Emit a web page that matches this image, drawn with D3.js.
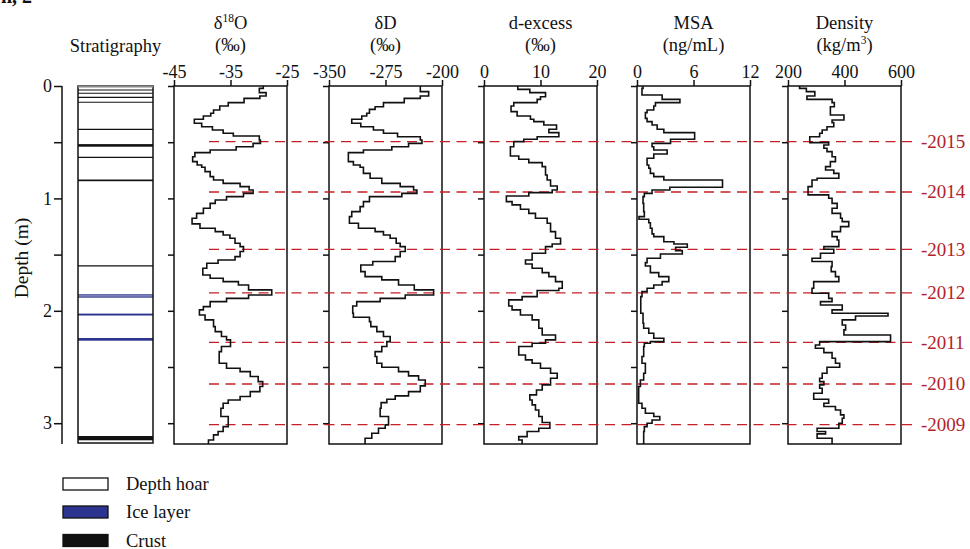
<!DOCTYPE html>
<html>
<head>
<meta charset="utf-8">
<script src="https://cdn.jsdelivr.net/npm/d3@7"></script>
<style>
  body { margin: 0; background: #fff; }
  svg { display: block; font-family: "Liberation Serif", "Times New Roman", serif; }
</style>
</head>
<body>
<svg id="chart" width="970" height="549"></svg>
<script>
// ---------- Profile data (sample top depth in m, value) ----------
const d18oDepth = [0, 0.021, 0.059, 0.089, 0.110, 0.148, 0.178, 0.213, 0.243, 0.267, 0.296, 0.332, 0.362, 0.391, 0.421, 0.445, 0.480, 0.510, 0.540, 0.569, 0.593, 0.629, 0.673, 0.703, 0.723, 0.762, 0.806, 0.836, 0.866, 0.895, 0.925, 0.955, 0.984, 1.014, 1.044, 1.088, 1.133, 1.177, 1.227, 1.266, 1.296, 1.325, 1.355, 1.399, 1.429, 1.473, 1.518, 1.548, 1.577, 1.622, 1.681, 1.711, 1.740, 1.770, 1.814, 1.859, 1.889, 1.918, 1.963, 1.992, 2.037, 2.081, 2.141, 2.185, 2.229, 2.259, 2.318, 2.363, 2.467, 2.511, 2.541, 2.585, 2.630, 2.674, 2.719, 2.763, 2.793, 2.822, 2.867, 2.941, 3.030, 3.074, 3.104, 3.149];
const d18oValue = [-29.2, -29.9, -28.7, -29.8, -32.6, -35.4, -36.9, -38.0, -38.5, -39.8, -41.4, -40.1, -38.2, -36.3, -34.5, -29.9, -29.7, -31.0, -34.0, -38.6, -41.3, -41.7, -40.9, -40.1, -39.5, -38.6, -38.0, -36.3, -33.3, -31.7, -31.0, -32.7, -35.7, -37.7, -38.6, -39.8, -41.0, -41.8, -40.4, -37.7, -36.3, -35.1, -34.2, -33.3, -32.7, -33.3, -34.2, -37.2, -39.2, -39.9, -38.6, -36.3, -33.6, -31.8, -27.7, -31.8, -35.7, -38.6, -39.8, -40.5, -39.5, -38.0, -37.7, -36.6, -35.7, -35.0, -36.6, -37.0, -35.7, -33.3, -31.5, -30.1, -29.3, -29.8, -31.5, -33.3, -35.4, -36.3, -36.7, -35.4, -36.3, -37.2, -38.0, -38.9];

const dDDepth = [0, 0.050, 0.089, 0.110, 0.148, 0.184, 0.208, 0.243, 0.267, 0.296, 0.332, 0.362, 0.391, 0.421, 0.451, 0.480, 0.510, 0.540, 0.569, 0.593, 0.673, 0.703, 0.723, 0.777, 0.821, 0.866, 0.895, 0.925, 0.955, 0.984, 1.029, 1.073, 1.118, 1.162, 1.221, 1.266, 1.296, 1.325, 1.355, 1.399, 1.429, 1.473, 1.518, 1.562, 1.592, 1.651, 1.696, 1.725, 1.770, 1.814, 1.859, 1.889, 1.918, 1.957, 2.022, 2.058, 2.096, 2.141, 2.185, 2.229, 2.274, 2.318, 2.363, 2.407, 2.467, 2.502, 2.541, 2.579, 2.615, 2.668, 2.719, 2.757, 2.787, 2.817, 2.867, 2.941, 3.015, 3.045, 3.089, 3.134];
const dDValue = [-228.8, -217.7, -228.8, -250.1, -277.7, -288.8, -296.3, -299.9, -306.5, -319.8, -307.8, -291.0, -277.7, -259.0, -228.8, -226.6, -244.4, -266.6, -304.3, -324.3, -317.6, -308.7, -304.3, -295.4, -279.9, -255.5, -237.7, -233.3, -253.3, -296.3, -304.3, -308.7, -319.8, -322.9, -310.9, -288.8, -277.7, -268.8, -260.8, -255.5, -248.8, -255.5, -262.1, -291.9, -307.8, -302.1, -279.9, -257.7, -236.8, -211.1, -248.8, -282.1, -313.2, -318.5, -317.6, -296.3, -294.5, -286.5, -277.7, -268.8, -273.2, -279.9, -288.8, -286.5, -279.9, -257.7, -244.4, -231.1, -222.2, -228.8, -244.4, -262.1, -273.2, -280.8, -282.1, -271.0, -275.4, -284.3, -293.2, -302.1];

const dexDepth = [0, 0.030, 0.059, 0.095, 0.119, 0.148, 0.178, 0.228, 0.267, 0.296, 0.317, 0.347, 0.385, 0.415, 0.451, 0.474, 0.495, 0.540, 0.623, 0.652, 0.682, 0.717, 0.792, 0.836, 0.889, 0.925, 0.949, 0.978, 1.029, 1.058, 1.097, 1.133, 1.177, 1.221, 1.296, 1.355, 1.405, 1.429, 1.488, 1.548, 1.583, 1.622, 1.660, 1.696, 1.740, 1.800, 1.820, 1.874, 1.903, 1.957, 1.992, 2.037, 2.081, 2.155, 2.215, 2.259, 2.289, 2.318, 2.393, 2.437, 2.467, 2.511, 2.556, 2.600, 2.659, 2.704, 2.748, 2.793, 2.837, 2.882, 2.941, 2.994, 3.045, 3.074, 3.119, 3.149];
const dexValue = [5.98, 8.11, 10.89, 10.0, 9.41, 5.27, 4.79, 5.86, 8.22, 8.82, 10.59, 12.84, 11.48, 13.25, 9.41, 7.04, 5.27, 4.67, 6.15, 7.93, 10.3, 10.89, 11.18, 11.78, 12.96, 12.07, 7.93, 3.96, 4.97, 6.45, 7.93, 9.11, 11.18, 11.78, 12.66, 13.55, 12.07, 10.89, 8.52, 7.34, 8.52, 10.3, 11.48, 12.66, 13.85, 13.25, 9.41, 6.75, 4.38, 4.97, 6.45, 8.52, 9.70, 10.3, 12.66, 10.89, 8.52, 6.15, 7.34, 8.52, 10.0, 11.78, 12.96, 11.78, 10.3, 9.29, 8.11, 8.52, 9.11, 9.70, 10.3, 11.66, 9.70, 7.63, 6.15, 6.75];

const msaDepth = [0, 0.021, 0.080, 0.119, 0.148, 0.178, 0.213, 0.237, 0.288, 0.317, 0.347, 0.385, 0.415, 0.474, 0.510, 0.540, 0.569, 0.605, 0.643, 0.703, 0.732, 0.777, 0.806, 0.836, 0.901, 0.925, 0.955, 0.984, 1.044, 1.118, 1.162, 1.186, 1.216, 1.266, 1.316, 1.340, 1.385, 1.405, 1.435, 1.465, 1.494, 1.533, 1.571, 1.601, 1.660, 1.696, 1.740, 1.770, 1.800, 1.829, 1.874, 2.022, 2.111, 2.155, 2.200, 2.244, 2.274, 2.289, 2.318, 2.407, 2.467, 2.556, 2.615, 2.674, 2.822, 2.867, 2.911, 2.941, 2.971, 3.000, 3.030, 3.074];
const msaValue = [0.64, 0.53, 2.67, 4.56, 1.96, 1.78, 1.07, 0.89, 1.07, 1.60, 2.14, 2.85, 6.12, 3.56, 1.60, 1.78, 3.20, 1.78, 1.07, 1.25, 1.42, 1.78, 2.85, 9.08, 3.49, 1.60, 0.78, 0.64, 0.71, 0.78, 0.21, 1.25, 1.42, 1.60, 1.78, 2.85, 3.92, 5.34, 4.10, 4.81, 2.49, 1.07, 0.89, 1.42, 2.31, 3.38, 2.67, 1.78, 1.07, 0.53, 0.40, 0.64, 0.71, 1.25, 1.78, 2.85, 1.42, 0.78, 0.71, 0.53, 0.89, 0.71, 0.36, 0.18, 0.53, 0.89, 1.78, 2.42, 1.60, 1.07, 0.78, 0.71];

const densDepth = [0, 0.021, 0.050, 0.089, 0.119, 0.148, 0.184, 0.258, 0.302, 0.326, 0.362, 0.391, 0.421, 0.451, 0.504, 0.525, 0.554, 0.584, 0.629, 0.673, 0.717, 0.747, 0.777, 0.821, 0.836, 0.895, 0.969, 0.999, 1.044, 1.088, 1.133, 1.177, 1.207, 1.251, 1.296, 1.340, 1.370, 1.429, 1.453, 1.488, 1.533, 1.562, 1.607, 1.651, 1.696, 1.740, 1.800, 1.844, 1.889, 1.918, 1.948, 1.992, 2.022, 2.046, 2.081, 2.126, 2.170, 2.215, 2.274, 2.304, 2.333, 2.372, 2.422, 2.467, 2.502, 2.556, 2.600, 2.630, 2.659, 2.689, 2.734, 2.787, 2.822, 2.852, 2.882, 2.926, 2.956, 3.000, 3.045, 3.074, 3.095, 3.134];
const densValue = [241, 265, 295, 267, 356, 364, 350, 398, 356, 362, 338, 321, 312, 277, 344, 327, 338, 356, 368, 350, 333, 362, 380, 303, 285, 271, 344, 356, 374, 356, 386, 392, 415, 386, 356, 374, 380, 327, 362, 315, 285, 356, 353, 368, 380, 291, 285, 344, 356, 315, 392, 356, 554, 439, 392, 404, 398, 563, 312, 297, 327, 356, 368, 383, 338, 321, 312, 327, 312, 321, 291, 344, 327, 368, 386, 398, 392, 380, 303, 333, 303, 356];

// ---------- Panel descriptions ----------
const panelTitle = [
  [{ t: "δ" }, { t: "18", sup: true }, { t: "O" }],
  [{ t: "δD" }],
  [{ t: "d-excess" }],
  [{ t: "MSA" }],
  [{ t: "Density" }]
];
const panelUnit = [
  [{ t: "(‰)" }],
  [{ t: "(‰)" }],
  [{ t: "(‰)" }],
  [{ t: "(ng/mL)" }],
  [{ t: "(kg/m" }, { t: "3", sup: true }, { t: ")" }]
];
const panelDomain = [[-45, -25], [-350, -200], [0, 20], [0, 12], [200, 600]];
const panelTicks = [[-45, -35, -25], [-350, -275, -200], [0, 10, 20], [0, 6, 12], [200, 400, 600]];

// ---------- Stratigraphy ----------
const layerBounds = [0.036, 0.065, 0.101, 0.145, 0.386, 0.635, 1.600];   // thin boundaries
const crustLayers = [[0.517, 0.540], [0.832, 0.847], [3.114, 3.152]];      // [top, bottom]
const iceLayers = [[1.853, 1.865], [1.871, 1.883], [2.025, 2.042], [2.242, 2.266]];

// ---------- Annual layer markers ----------
const yearDepth = [0.495, 0.943, 1.453, 1.841, 2.280, 2.651, 3.012];
const yearLabel = ["2015", "2014", "2013", "2012", "2011", "2010", "2009"];

// ---------- Legend ----------
const legendLabel = ["Depth hoar", "Ice layer", "Crust"];

// ---------- Layout ----------
const maxDepth = 3.185;
const plotTop = 86, plotBottom = 444;
const panelLeft = [174, 329, 484, 637, 788];
const panelWidth = 113;
const stratX0 = 78, stratX1 = 153;
const axisX = 62;
const ink = "#111";
const iceColor = "#2d3590";
const markerColor = "#c81e28";
const yearColor = "#b3222c";

const svg = d3.select("#chart");
const y = d3.scaleLinear().domain([0, maxDepth]).range([plotTop, plotBottom]);

// text with optional superscript parts
function richText(sel, parts, size) {
  let raised = 0;
  parts.forEach(p => {
    const ts = sel.append("tspan").text(p.t);
    if (p.sup) {
      ts.attr("font-size", size * 0.62).attr("dy", -size * 0.38);
      raised = size * 0.38;
    } else if (raised) {
      ts.attr("dy", raised);
      raised = 0;
    }
  });
}

// ---------- Depth axis ----------
const depthAxis = d3.axisLeft(y)
  .tickValues(d3.range(0, 3.01, 0.5))
  .tickSize(8).tickPadding(2)
  .tickFormat(d => Number.isInteger(d) ? String(d) : "");
const gAxis = svg.append("g").attr("transform", `translate(${axisX},0)`).call(depthAxis);
gAxis.select(".domain").attr("d", `M0,${plotTop}V${plotBottom}`).attr("stroke", ink).attr("stroke-width", 1.5);
gAxis.selectAll(".tick line").attr("stroke", ink).attr("stroke-width", 1.5);
gAxis.selectAll(".tick text").attr("font-family", "Liberation Serif, serif").attr("font-size", 18).attr("fill", ink);

svg.append("text")
  .attr("transform", `translate(28,258) rotate(-90)`)
  .attr("text-anchor", "middle").attr("font-size", 19.5).attr("fill", ink)
  .text("Depth (m)");

// ---------- Stratigraphy column ----------
svg.append("text").attr("x", (stratX0 + stratX1) / 2).attr("y", 52)
  .attr("text-anchor", "middle").attr("font-size", 18.5).attr("fill", ink).text("Stratigraphy");

const gStrat = svg.append("g");
gStrat.append("rect").attr("x", stratX0).attr("y", plotTop).attr("width", stratX1 - stratX0)
  .attr("height", plotBottom - 1 - plotTop).attr("fill", "#fff");
gStrat.selectAll("line.bound").data(layerBounds).join("line")
  .attr("x1", stratX0).attr("x2", stratX1)
  .attr("y1", d => y(d)).attr("y2", d => y(d))
  .attr("stroke", ink).attr("stroke-width", 1.1);
gStrat.selectAll("rect.ice").data(iceLayers).join("rect")
  .attr("x", stratX0).attr("width", stratX1 - stratX0)
  .attr("y", d => y(d[0])).attr("height", d => y(d[1]) - y(d[0]))
  .attr("fill", iceColor);
gStrat.selectAll("rect.crust").data(crustLayers).join("rect")
  .attr("x", stratX0).attr("width", stratX1 - stratX0)
  .attr("y", d => y(d[0])).attr("height", d => y(d[1]) - y(d[0]))
  .attr("fill", ink);
gStrat.append("rect").attr("x", stratX0).attr("y", plotTop).attr("width", stratX1 - stratX0)
  .attr("height", plotBottom - 1 - plotTop).attr("fill", "none").attr("stroke", ink).attr("stroke-width", 1.5);
gStrat.append("line").attr("x1", stratX0).attr("x2", stratX1).attr("y1", plotTop + 0.5).attr("y2", plotTop + 0.5)
  .attr("stroke", "#8a8a8a").attr("stroke-width", 2);

// ---------- Profile panels ----------
const series = [
  { depth: d18oDepth, value: d18oValue },
  { depth: dDDepth, value: dDValue },
  { depth: dexDepth, value: dexValue },
  { depth: msaDepth, value: msaValue },
  { depth: densDepth, value: densValue }
];

const panels = series.map((s, i) => {
  const x0 = panelLeft[i];
  const x = d3.scaleLinear().domain(panelDomain[i]).range([x0, x0 + panelWidth]);
  const g = svg.append("g");

  const cx = x0 + panelWidth / 2;
  const t1 = g.append("text").attr("x", cx).attr("y", 29).attr("text-anchor", "middle")
    .attr("font-size", 18.5).attr("fill", ink);
  richText(t1, panelTitle[i], 18.5);
  const t2 = g.append("text").attr("x", cx).attr("y", 51).attr("text-anchor", "middle")
    .attr("font-size", 18.5).attr("fill", ink);
  richText(t2, panelUnit[i], 18.5);

  g.append("rect").attr("x", x0).attr("y", plotTop).attr("width", panelWidth).attr("height", plotBottom - plotTop)
    .attr("fill", "none").attr("stroke", ink).attr("stroke-width", 1.5);

  const ax = d3.axisTop(x).tickValues(panelTicks[i]).tickSize(6).tickPadding(2)
    .tickFormat(d => String(d));
  const ga = g.append("g").attr("transform", `translate(0,${plotTop})`).call(ax);
  ga.select(".domain").remove();
  ga.selectAll(".tick line").attr("stroke", ink).attr("stroke-width", 1.5);
  ga.selectAll(".tick text").attr("font-family", "Liberation Serif, serif").attr("font-size", 18).attr("fill", ink);

  const dl = d3.axisLeft(y).tickValues(d3.range(0, 3.01, 0.5)).tickSize(6).tickFormat("");
  const gl = g.append("g").attr("transform", `translate(${x0},0)`).call(dl);
  gl.select(".domain").remove();
  gl.selectAll(".tick line").attr("stroke", ink).attr("stroke-width", 1.5);

  return { x, s };
});

// ---------- Annual markers ----------
const gYear = svg.append("g");
gYear.selectAll("line").data(yearDepth).join("line")
  .attr("x1", 209).attr("x2", 917)
  .attr("y1", d => y(d)).attr("y2", d => y(d))
  .attr("stroke", markerColor).attr("stroke-width", 1.3).attr("stroke-dasharray", "10,6.5");
gYear.selectAll("text").data(yearLabel).join("text")
  .attr("x", 921).attr("y", (d, i) => y(yearDepth[i]) + 6.5)
  .attr("font-size", 19).attr("fill", yearColor)
  .text(d => "-" + d);

// ---------- Step profiles ----------
panels.forEach(({ x, s }) => {
  const pts = s.depth.map((d, i) => [s.value[i], d]);
  pts.push([s.value[s.value.length - 1], maxDepth]);
  const line = d3.line().x(p => x(p[0])).y(p => y(p[1])).curve(d3.curveStepBefore);
  svg.append("path").datum(pts).attr("d", line)
    .attr("fill", "none").attr("stroke", ink).attr("stroke-width", 1.6).attr("stroke-linejoin", "miter");
});

// ---------- Legend ----------
const legendFill = ["#fff", iceColor, ink];
const legendY = [478, 506, 534.5];
const gLeg = svg.append("g");
legendLabel.forEach((lab, i) => {
  gLeg.append("rect").attr("x", 63).attr("y", legendY[i]).attr("width", 45).attr("height", 12)
    .attr("fill", legendFill[i]).attr("stroke", ink).attr("stroke-width", 1.3);
  gLeg.append("text").attr("x", 126).attr("y", legendY[i] + 12).attr("font-size", 18.5)
    .attr("fill", ink).text(lab);
});

// corner panel tag, sitting at the very top edge
svg.append("text").attr("x", 1).attr("y", 3).attr("font-size", 20).attr("font-weight", "bold")
  .attr("fill", ink).text("n, 2");
</script>
</body>
</html>
